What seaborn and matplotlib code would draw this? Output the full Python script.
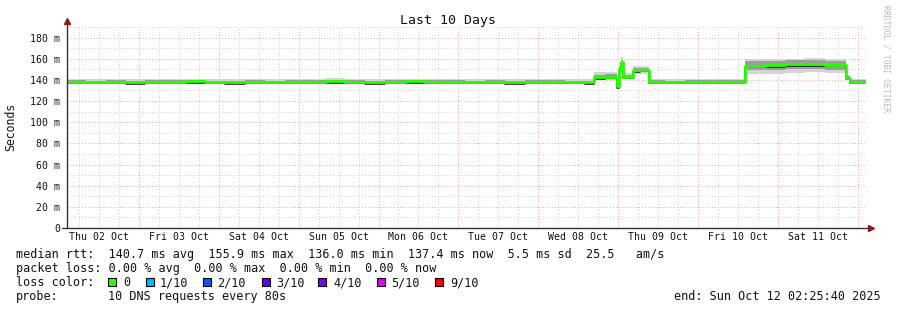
import matplotlib
matplotlib.use("Agg")
import matplotlib.pyplot as plt
import matplotlib.dates as mdates
from matplotlib.patches import Rectangle
import numpy as np
import pandas as pd
import seaborn as sns

# ---------------- data ----------------
times = [
    "2025-10-02 02:25", "2025-10-02 08:00", "2025-10-02 14:00", "2025-10-02 20:00",
    "2025-10-03 02:00", "2025-10-03 08:00", "2025-10-03 14:00", "2025-10-03 20:00",
    "2025-10-04 02:00", "2025-10-04 08:00", "2025-10-04 14:00", "2025-10-04 20:00",
    "2025-10-05 02:00", "2025-10-05 08:00", "2025-10-05 14:00", "2025-10-05 20:00",
    "2025-10-06 02:00", "2025-10-06 08:00", "2025-10-06 14:00", "2025-10-06 20:00",
    "2025-10-07 02:00", "2025-10-07 08:00", "2025-10-07 14:00", "2025-10-07 20:00",
    "2025-10-08 02:00", "2025-10-08 08:00", "2025-10-08 14:00", "2025-10-08 16:50",
    "2025-10-08 20:00", "2025-10-08 23:40", "2025-10-09 00:20", "2025-10-09 00:50",
    "2025-10-09 01:30", "2025-10-09 04:30", "2025-10-09 06:30", "2025-10-09 09:10",
    "2025-10-09 14:00", "2025-10-09 20:00", "2025-10-10 02:00", "2025-10-10 08:00",
    "2025-10-10 14:00", "2025-10-10 20:00", "2025-10-11 02:00", "2025-10-11 08:00",
    "2025-10-11 14:00", "2025-10-11 20:30", "2025-10-11 21:30", "2025-10-12 02:25",
]
median_ms = [
    138.2, 138.0, 138.4, 137.9, 138.3, 138.1, 138.5, 138.0,
    137.8, 138.2, 138.0, 138.4, 138.1, 138.6, 138.2, 137.9,
    138.3, 138.5, 138.1, 138.4, 138.0, 138.2, 137.9, 138.3,
    138.1, 138.0, 137.8, 142.6, 142.9, 134.0, 150.0, 157.0,
    143.0, 149.0, 149.5, 138.2, 138.0, 138.4, 138.1, 138.3,
    153.5, 153.8, 154.6, 155.0, 154.2, 142.0, 138.2, 138.2,
]
smoke_lo = [
    135.8, 135.9, 136.0, 135.8, 135.9, 136.0, 136.1, 135.8,
    135.7, 135.9, 135.8, 136.0, 135.9, 136.2, 135.9, 135.7,
    136.0, 136.1, 135.9, 136.0, 135.8, 135.9, 135.7, 136.0,
    135.8, 135.8, 135.6, 139.5, 139.8, 132.5, 146.0, 153.0,
    140.5, 145.5, 146.0, 135.9, 135.8, 136.0, 135.9, 136.0,
    145.5, 146.0, 146.5, 147.0, 146.5, 139.5, 135.9, 135.9,
]
smoke_hi = [
    141.0, 140.8, 141.2, 140.7, 141.0, 140.9, 141.3, 140.8,
    140.6, 141.0, 140.8, 141.2, 140.9, 141.4, 141.0, 140.7,
    141.1, 141.3, 140.9, 141.2, 140.8, 141.0, 140.7, 141.1,
    140.9, 140.8, 140.6, 147.0, 147.2, 137.0, 154.0, 161.5,
    146.5, 153.0, 153.5, 140.9, 140.8, 141.2, 140.9, 141.0,
    159.5, 159.8, 160.2, 160.5, 159.8, 145.0, 141.0, 141.0,
]
smoke_lo2 = [
    137.0, 136.9, 137.2, 136.8, 137.1, 137.0, 137.3, 136.9,
    136.7, 137.1, 136.9, 137.2, 137.0, 137.4, 137.1, 136.8,
    137.2, 137.3, 137.0, 137.2, 136.9, 137.1, 136.8, 137.2,
    137.0, 136.9, 136.7, 141.0, 141.2, 133.0, 148.0, 155.0,
    141.8, 147.2, 147.8, 137.1, 136.9, 137.2, 137.0, 137.2,
    149.0, 149.5, 150.0, 150.5, 149.8, 140.5, 137.1, 137.1,
]
smoke_hi2 = [
    139.6, 139.4, 139.8, 139.3, 139.7, 139.5, 139.9, 139.4,
    139.2, 139.6, 139.4, 139.8, 139.5, 140.0, 139.6, 139.3,
    139.7, 139.9, 139.5, 139.8, 139.4, 139.6, 139.3, 139.7,
    139.5, 139.4, 139.2, 145.0, 145.2, 135.5, 152.0, 159.0,
    144.5, 151.0, 151.5, 139.6, 139.4, 139.8, 139.5, 139.7,
    157.5, 157.8, 158.5, 158.8, 158.0, 143.5, 139.6, 139.6,
]

day_labels = ["Thu 02 Oct", "Fri 03 Oct", "Sat 04 Oct", "Sun 05 Oct", "Mon 06 Oct",
              "Tue 07 Oct", "Wed 08 Oct", "Thu 09 Oct", "Fri 10 Oct", "Sat 11 Oct"]
ytick_values = [0, 20, 40, 60, 80, 100, 120, 140, 160, 180]
ytick_labels = ["0", "20 m", "40 m", "60 m", "80 m", "100 m", "120 m", "140 m", "160 m", "180 m"]

line1 = "median rtt:  140.7 ms avg  155.9 ms max  136.0 ms min  137.4 ms now  5.5 ms sd  25.5   am/s"
line2 = "packet loss: 0.00 % avg  0.00 % max  0.00 % min  0.00 % now"
loss_labels = ["0", "1/10", "2/10", "3/10", "4/10", "5/10", "9/10"]
loss_colors = ["#26ff00", "#00b8ff", "#0059ff", "#5e00ff", "#7e00ff", "#dd00ff", "#ff0000"]
probe_text = "10 DNS requests every 80s"
end_text = "end: Sun Oct 12 02:25:40 2025"

# ---------------- figure ----------------
sns.set_theme(style="white")
plt.rcParams["font.family"] = ["DejaVu Sans Mono", "DejaVu Sans"]

W, H = 897, 310
fig = plt.figure(figsize=(W / 100, H / 100), dpi=100)
fig.patch.set_facecolor("white")
ax = fig.add_axes([67 / W, 82 / H, 799 / W, 201 / H])
ax.set_facecolor("white")

df = pd.DataFrame({
    "time": pd.to_datetime(times),
    "median": median_ms,
    "lo": smoke_lo, "hi": smoke_hi,
    "lo2": smoke_lo2, "hi2": smoke_hi2,
})

t0 = pd.Timestamp("2025-10-02 02:25:40")
t1 = pd.Timestamp("2025-10-12 02:25:40")

# grid lines (6 h gray, midnight red)
for t in pd.date_range("2025-10-02 06:00", "2025-10-12 00:00", freq="6h"):
    col = "#e8a0a0" if t.hour == 0 else "#cccccc"
    ax.axvline(t, color=col, lw=0.7, ls=(0, (1, 2)), zorder=0)
for v in range(10, 191, 10):
    col = "#e8a0a0" if v % 20 == 0 else "#cccccc"
    ax.axhline(v, color=col, lw=0.7, ls=(0, (1, 2)), zorder=0)

# smoke
ax.fill_between(df["time"], df["lo"], df["hi"], step="post", color="#d4d4d4", lw=0, zorder=1)
ax.fill_between(df["time"], df["lo2"], df["hi2"], step="post", color="#9c9c9c", lw=0, zorder=2)

# median
sns.lineplot(data=df.assign(m2=df["median"] - 1.4), x="time", y="m2", ax=ax,
             drawstyle="steps-post", color="#111111", lw=1.1, zorder=3)
sns.lineplot(data=df, x="time", y="median", ax=ax,
             drawstyle="steps-post", color="#26ff00", lw=2.0, zorder=4)

ax.set_xlim(t0, t1)
ax.set_ylim(0, 190)
ax.set_xlabel("")
ax.set_ylabel("")

# ticks
noon = pd.date_range("2025-10-02 12:00", "2025-10-11 12:00", freq="D")
ax.set_xticks(noon)
ax.set_xticklabels(day_labels, fontsize=7.1, color="#111111")
ax.set_xticks(pd.date_range("2025-10-02 06:00", "2025-10-12 00:00", freq="6h"), minor=True)
ax.tick_params(axis="x", which="major", length=0, pad=3)
ax.tick_params(axis="x", which="minor", length=2, color="#888888", direction="out")
ax.set_yticks(ytick_values)
ax.set_yticklabels(ytick_labels, fontsize=7.1, color="#111111")
ax.tick_params(axis="y", which="major", length=2, color="#888888", direction="out", pad=3)

for s in ["top", "right", "left", "bottom"]:
    ax.spines[s].set_visible(False)

# axes with arrows
ax.plot([0, 0], [0, 1.035], transform=ax.transAxes, color="#333333", lw=1, clip_on=False, zorder=6)
ax.plot([-0.006, 1.005], [0, 0], transform=ax.transAxes, color="#333333", lw=1, clip_on=False, zorder=6)
ax.plot([0], [1.03], marker="^", ms=4, color="#8b1a1a", transform=ax.transAxes, clip_on=False, zorder=7)
ax.plot([1.006], [0], marker=">", ms=4, color="#8b1a1a", transform=ax.transAxes, clip_on=False, zorder=7)

def px(x, y):
    return x / W, 1 - y / H

# title and labels
fig.text(*px(448, 24), "Last 10 Days", fontsize=9.5, ha="center", va="baseline", color="#111111")
fig.text(*px(11, 127), "Seconds", fontsize=8.3, rotation=90, ha="center", va="center", color="#111111")
fig.text(*px(886, 5), "RRDTOOL / TOBI OETIKER", fontsize=5.8, rotation=-90,
         ha="center", va="top", color="#b8b8b8")

fs = 8.5
fig.text(*px(16, 258), line1, fontsize=fs, ha="left", va="baseline", color="#111111")
fig.text(*px(16, 272), line2, fontsize=fs, ha="left", va="baseline", color="#111111")
fig.text(*px(16, 286), "loss color:", fontsize=fs, ha="left", va="baseline", color="#111111")
sq_x = [108, 146, 203, 262, 318, 377, 435]
lab_x = [123, 160, 217, 276, 333, 391, 450]
for sx, lx, lab, col in zip(sq_x, lab_x, loss_labels, loss_colors):
    fig.patches.append(Rectangle(px(sx, 286), 8 / W, 8 / H, transform=fig.transFigure,
                                 facecolor=col, edgecolor="black", lw=0.8, figure=fig))
    fig.text(*px(lx, 286), lab, fontsize=fs, ha="left", va="baseline", color="#111111")
fig.text(*px(16, 300), "probe:", fontsize=fs, ha="left", va="baseline", color="#111111")
fig.text(*px(108, 300), probe_text, fontsize=fs, ha="left", va="baseline", color="#111111")
fig.text(*px(881, 300), end_text, fontsize=fs, ha="right", va="baseline", color="#111111")

fig.savefig("out.png", dpi=100)
